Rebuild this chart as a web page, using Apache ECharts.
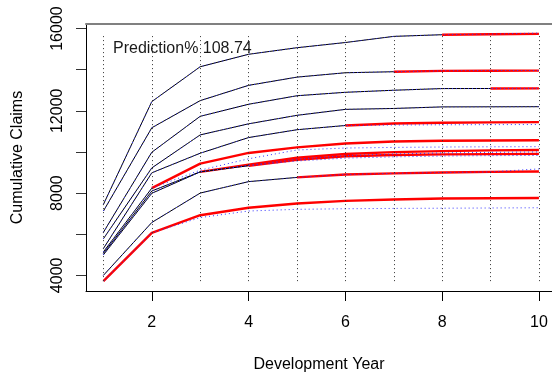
<!DOCTYPE html>
<html>
<head>
<meta charset="utf-8">
<script src="https://cdn.jsdelivr.net/npm/echarts@6/dist/echarts.min.js"></script>
<style>html,body{margin:0;padding:0;background:#fff}#c{width:552px;height:378px}</style>
</head>
<body>
<div id="c"></div>
<script>
// ---- data ----
const devYears = [1, 2, 3, 4, 5, 6, 7, 8, 9, 10];
const observedCounts = [10, 9, 8, 7, 6, 5, 4, 3, 2, 1];
// completed cumulative claims (observed + chain-ladder prediction), by origin
const origin1  = [5780, 9224, 10829, 11367, 11781, 12070, 12114, 12190, 12195, 12200];
const origin2  = [6095, 9986, 11733, 12319, 12733, 12900, 13000, 13081, 13085, 13090];
const origin3  = [7448, 12448, 14143, 14748, 15067, 15320, 15619, 15700, 15725, 15740];
const origin4  = [7128, 11176, 12495, 13238, 13638, 13850, 13900, 13940, 13950, 13955];
const origin5  = [5305, 8986, 9938, 10700, 11080, 11286, 11380, 11420, 11440, 11448];
const origin6  = [4000, 6571, 8000, 8557, 8762, 8905, 8960, 9000, 9030, 9048];
const origin7  = [5067, 8100, 9033, 9330, 9620, 9790, 9850, 9880, 9895, 9905];
const origin8  = [5000, 7990, 9033, 9380, 9720, 9900, 9990, 10040, 10075, 10095];
const origin9  = [5143, 8238, 9429, 9952, 10224, 10414, 10510, 10543, 10557, 10571];
const origin10 = [3720, 6066, 6924, 7286, 7495, 7619, 7686, 7733, 7748, 7762];
// alternative projection (dotted blue), starting at last observed value
const alt1  = [12200];
const alt2  = [13081, 13095];
const alt3  = [15700, 15730, 15780];
const alt4  = [13900, 13945, 13955, 13960];
const alt5  = [11286, 11310, 11320, 11328, 11333];
const alt6  = [8762, 8905, 8960, 9000, 9030, 9176];
const alt7  = [9330, 9560, 9700, 9760, 9800, 9820, 9829];
const alt8  = [9033, 9350, 9650, 9820, 9900, 9950, 9980, 10000];
const alt9  = [8238, 9114, 9667, 10095, 10190, 10220, 10240, 10250, 10257];
const alt10 = [3720, 6066, 6810, 7128, 7210, 7238, 7255, 7265, 7275, 7286];
const xTickValues = [2, 4, 6, 8, 10];
const yTickValues = [4000, 6000, 8000, 10000, 12000, 14000, 16000];
const yLabelValues = [4000, 8000, 12000, 16000];
const annotation = 'Prediction% 108.74';
const xTitle = 'Development Year';
const yTitle = 'Cumulative Claims';

const origins = [origin1, origin2, origin3, origin4, origin5, origin6, origin7, origin8, origin9, origin10];
const alts = [alt1, alt2, alt3, alt4, alt5, alt6, alt7, alt8, alt9, alt10];

const allVals = origins.flat();
const yLo = Math.min(...allVals), yHi = Math.max(...allVals);
const yRange = yHi - yLo;
const yMin = yLo - 0.04 * yRange, yMax = yHi + 0.04 * yRange;
// x extent: R-style 4% padding on the left; right side cut off at the page edge
const xMin = 1 - 0.04 * 9, xMax = 10.27;

const FONT = "'Liberation Sans', Arial, sans-serif";
const series = [];

// dotted vertical guide lines
series.push({
  type: 'line', data: [], silent: true, z: 1,
  markLine: {
    silent: true, symbol: ['none', 'none'], label: {show: false}, animation: false,
    lineStyle: {color: '#333', width: 1, type: [1, 3]},
    emphasis: {disabled: true},
    data: devYears.map(d => [{coord: [d, yLo]}, {coord: [d, yHi]}])
  }
});

origins.forEach((vals, i) => {
  const n = observedCounts[i];
  const red = devYears.slice(n - 1).map((d, j) => [d, vals[n - 1 + j]]);
  if (red.length > 1) {
    series.push({type: 'line', data: red, symbol: 'none', z: 2, silent: true,
      lineStyle: {color: '#ff0000', width: 2.4}, animation: false});
  }
  const obs = devYears.slice(0, n).map((d, j) => [d, vals[j]]);
  if (obs.length > 1) {
    series.push({type: 'line', data: obs, symbol: 'none', z: 3, silent: true,
      lineStyle: {color: '#000', width: 1}, animation: false});
  }
  const a = alts[i];
  const blue = obs.concat(devYears.slice(n).map((d, j) => [d, a[j + 1]]));
  series.push({type: 'line', data: blue, symbol: 'none', z: 4, silent: true,
    lineStyle: {color: '#3333ff', width: 1, type: [1, 3]}, animation: false});
});

const chart = echarts.init(document.getElementById('c'), null, {renderer: 'canvas'});
chart.setOption({
  animation: false,
  backgroundColor: '#fff',
  textStyle: {fontFamily: FONT},
  grid: {left: 86, top: 24, right: 0, height: 272.7, containLabel: false},
  xAxis: [{
    type: 'value', min: xMin, max: xMax, position: 'bottom',
    axisLine: {show: true, onZero: false, lineStyle: {color: '#000', width: 1}},
    axisTick: {show: true, length: 10, customValues: xTickValues, lineStyle: {color: '#000'}},
    axisLabel: {customValues: xTickValues, fontSize: 16, color: '#000', margin: 24, fontFamily: FONT},
    splitLine: {show: false},
    name: xTitle, nameLocation: 'middle', nameGap: 66,
    nameTextStyle: {fontSize: 16, color: '#000', fontFamily: FONT}
  }, {
    type: 'value', min: xMin, max: xMax, position: 'top',
    axisLine: {show: true, onZero: false, lineStyle: {color: '#808080', width: 2}},
    axisTick: {show: false}, axisLabel: {show: false}, splitLine: {show: false}
  }],
  yAxis: {
    type: 'value', min: yMin, max: yMax,
    axisLine: {show: true, onZero: false, lineStyle: {color: '#000', width: 1}},
    axisTick: {show: true, length: 10, customValues: yTickValues, lineStyle: {color: '#333'}},
    axisLabel: {customValues: yLabelValues, rotate: 90, fontSize: 16, color: '#000', margin: 20,
      fontFamily: FONT, formatter: v => String(v)},
    splitLine: {show: false},
    name: yTitle, nameLocation: 'middle', nameGap: 60, nameRotate: 90,
    nameTextStyle: {fontSize: 16, color: '#000', fontFamily: FONT}
  },
  graphic: [{
    type: 'text', left: 113, top: 41,
    style: {text: annotation, fontSize: 16, fill: '#1a1a1a', fontFamily: FONT}
  }],
  series: series
});
</script>
</body>
</html>
